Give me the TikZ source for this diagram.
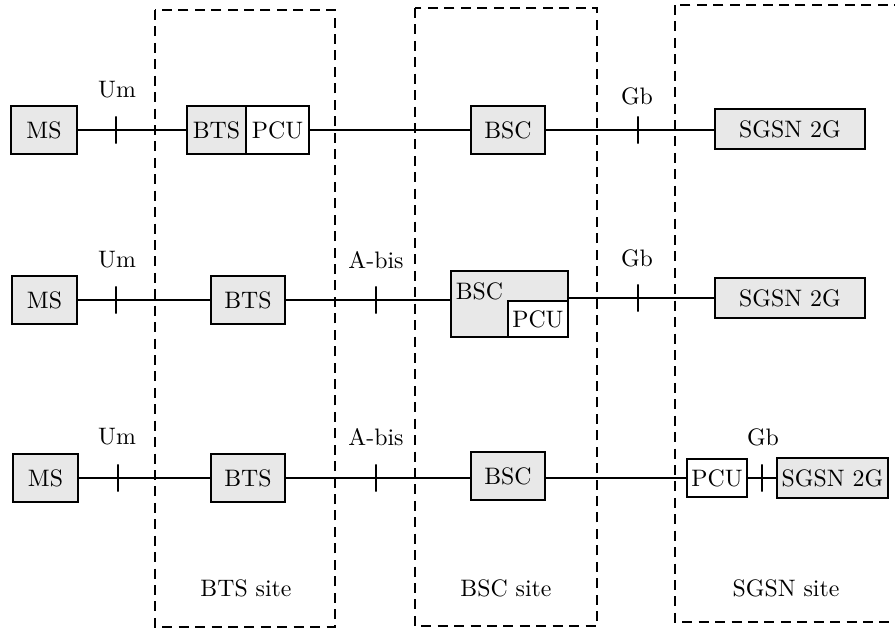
\documentclass[tikz,border=0pt]{standalone}
\usetikzlibrary{positioning}
\definecolor{boxgray}{gray}{0.91}

\begin{document}
\begin{tikzpicture}[x=0.42pt,y=-0.42pt,
    every node/.style={inner sep=0pt,outer sep=0pt},
    elem/.style={draw,line width=0.8pt,fill=boxgray,minimum height=20.5pt},
    pcubox/.style={draw,line width=0.8pt,fill=white,minimum width=25.2pt},
    tick/.style={draw,line width=0.8pt,minimum width=0pt,minimum height=11.5pt},
    site/.style={line width=0.8pt,dash pattern=on 4.2pt off 2.7pt},
    link/.style={line width=0.8pt}]
\useasboundingbox (0,0) rectangle (895,631);
\clip (0,0) rectangle (895,631);

% sites
\draw[site] (155,10) rectangle (335,627);
\draw[site] (415,8) rectangle (597,626);
\draw[site] (675,5) rectangle (920,622);
\node (btssite) at (246,588) {BTS site};
\node (bscsite) at (506,588) {BSC site};
\node (sgsnsite) at (786,588) {SGSN site};

% row 1
\begin{scope}
    \node[elem,minimum width=28pt] (ms1) at (44,130) {MS};
    \node[elem,minimum width=24.8pt] (bts1) at (216.5,130) {BTS};
    \node[pcubox,minimum width=26.5pt,minimum height=20.5pt,right=0pt of bts1] (pcu1) {PCU};
    \node[elem,minimum width=31pt] (bsc1) at (508,130) {BSC};
    \node[elem,minimum width=63pt,minimum height=16.8pt] (sgsn1) at (790,129) {SGSN 2G};
    \node (um1l) at (117,90) {Um};
    \node (gb1l) at (637,96) {Gb};
\end{scope}
\draw[link] (ms1) -- (bts1);
\draw[link] (pcu1) -- (bsc1);
\draw[link] (bsc1) -- (sgsn1.west |- bsc1);
\node[tick] (um1) at (116,130) {};
\node[tick] (gb1) at (638,130) {};

% row 2
\begin{scope}
    \node[elem,minimum width=27.5pt] (ms2) at (44.5,300) {MS};
    \node[elem,minimum width=31pt] (bts2) at (248,300) {BTS};
    \node[elem,minimum width=49.1pt,minimum height=27.7pt] (bsc2) at (509.5,304) {};
    \node[anchor=north west,xshift=2pt,yshift=-5pt] (bsc2l) at (bsc2.north west) {BSC};
    \node[pcubox,minimum height=15.1pt,anchor=south east] (pcu2) at (bsc2.south east) {PCU};
    \node[elem,minimum width=63pt,minimum height=16.8pt] (sgsn2) at (790,298) {SGSN 2G};
    \node (um2l) at (117,260) {Um};
    \node (abis2l) at (376,260) {A-bis};
    \node (gb2l) at (637,258) {Gb};
\end{scope}
\draw[link] (ms2) -- (bts2);
\draw[link] (bts2) -- (bts2 -| bsc2.west);
\draw[link] (bsc2.east |- sgsn2) -- (sgsn2);
\node[tick] (um2) at (116,300) {};
\node[tick] (abis2) at (376,300) {};
\node[tick] (gb2) at (638,298) {};

% row 3
\begin{scope}
    \node[elem,minimum width=27.5pt] (ms3) at (45.5,478) {MS};
    \node[elem,minimum width=31pt] (bts3) at (248,478) {BTS};
    \node[elem,minimum width=31pt] (bsc3) at (508,476) {BSC};
    \node[pcubox,minimum height=16pt] (pcu3) at (717,478) {PCU};
    \node[elem,minimum width=46.6pt,minimum height=16.8pt] (sgsn3) at (832.5,478) {SGSN 2G};
    \node (um3l) at (117,437) {Um};
    \node (abis3l) at (376,437) {A-bis};
    \node (gb3l) at (763,437) {Gb};
\end{scope}
\draw[link] (ms3) -- (bts3);
\draw[link] (bts3) -- (bsc3.west |- bts3);
\draw[link] (bsc3.east |- pcu3) -- (pcu3);
\draw[link] (pcu3) -- (sgsn3);
\node[tick] (um3) at (118,478) {};
\node[tick] (abis3) at (376,478) {};
\node[tick] (gb3) at (762,478) {};
\end{tikzpicture}
\end{document}
